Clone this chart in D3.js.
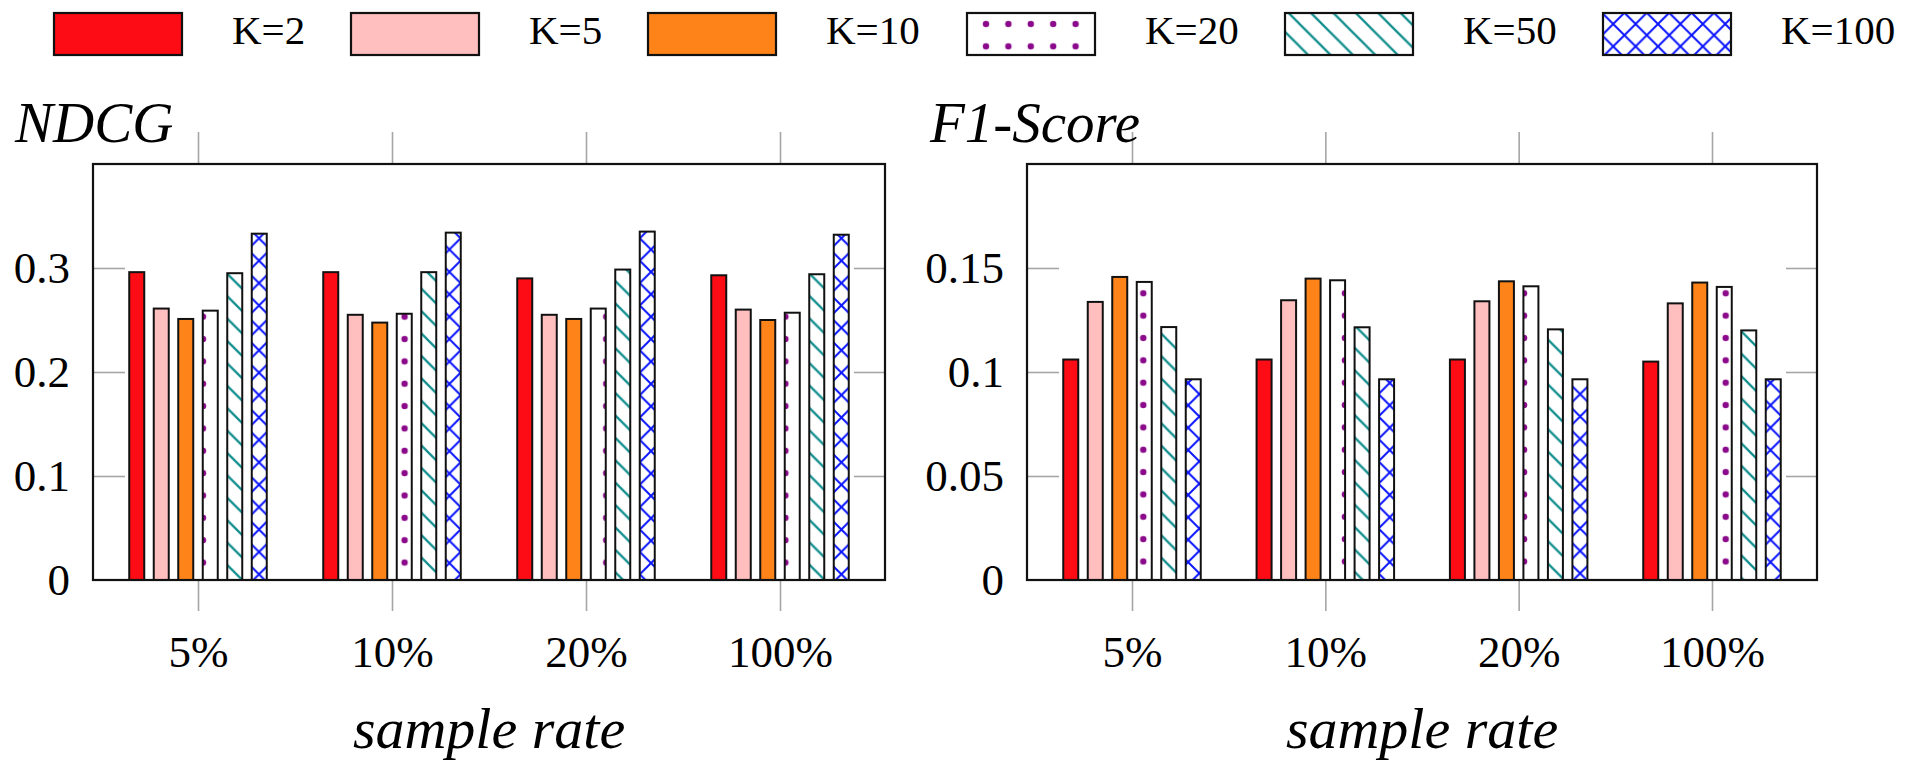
<!DOCTYPE html>
<html>
<head>
<meta charset="utf-8">
<script src="https://cdn.jsdelivr.net/npm/d3@7"></script>
<style>
  body { margin: 0; background: #fff; }
  text { font-family: "Liberation Serif", "Times New Roman", serif; fill: #000; }
</style>
</head>
<body>
<svg id="chart" width="1908" height="760"></svg>
<script>
// categories on the x axis
var rates = ["5%", "10%", "20%", "100%"];
// one series per K
var kLabels = ["K=2", "K=5", "K=10", "K=20", "K=50", "K=100"];

// NDCG values, one row per K, one column per sample rate
var ndcgK2   = [0.296, 0.296, 0.290, 0.293];
var ndcgK5   = [0.261, 0.255, 0.255, 0.260];
var ndcgK10  = [0.251, 0.2475, 0.251, 0.250];
var ndcgK20  = [0.259, 0.256, 0.261, 0.257];
var ndcgK50  = [0.295, 0.296, 0.2985, 0.294];
var ndcgK100 = [0.333, 0.334, 0.335, 0.332];

// F1-Score values
var f1K2   = [0.106, 0.106, 0.106, 0.105];
var f1K5   = [0.1337, 0.1345, 0.134, 0.133];
var f1K10  = [0.1457, 0.1449, 0.1436, 0.1430];
var f1K20  = [0.1433, 0.1441, 0.1412, 0.1409];
var f1K50  = [0.1216, 0.1215, 0.1205, 0.120];
var f1K100 = [0.0965, 0.0965, 0.0965, 0.0965];

// y ticks
var ndcgTicks = [0, 0.1, 0.2, 0.3];
var ndcgTickLabels = ["0", "0.1", "0.2", "0.3"];
var f1Ticks = [0, 0.05, 0.1, 0.15];
var f1TickLabels = ["0", "0.05", "0.1", "0.15"];

var svg = d3.select("#chart");
var defs = svg.append("defs");

// fill style for each K: plain colour or a pattern name
var styles = [
  { fill: "#fe0c15" },
  { fill: "#ffbfbf" },
  { fill: "#fe841a" },
  { pattern: "dots" },
  { pattern: "hatch" },
  { pattern: "cross" }
];

var P = 22.4; // pattern period

// patterns are anchored in page space, so each chart gets its own offset
function makePatterns(suffix, ox, oy) {
  var d = defs.append("pattern").attr("id", "dots" + suffix)
    .attr("patternUnits", "userSpaceOnUse")
    .attr("x", ox).attr("y", oy).attr("width", P).attr("height", 22.35);
  d.append("rect").attr("width", P).attr("height", 22.35).attr("fill", "#fff");
  [[0, 0], [P, 0], [0, 22.35], [P, 22.35]].forEach(function(c) {
    d.append("circle").attr("cx", c[0]).attr("cy", c[1]).attr("r", 3.2).attr("fill", "#8b0a8b");
  });

  var h = defs.append("pattern").attr("id", "hatch" + suffix)
    .attr("patternUnits", "userSpaceOnUse")
    .attr("x", ox).attr("y", oy).attr("width", P).attr("height", P);
  h.append("rect").attr("width", P).attr("height", P).attr("fill", "#fff");
  h.append("path")
    .attr("d", "M-1,-1L" + (P + 1) + "," + (P + 1) +
      "M-1," + (P - 1) + "L1," + (P + 1) +
      "M" + (P - 1) + ",-1L" + (P + 1) + ",1")
    .attr("stroke", "#148f8f").attr("stroke-width", 2.3);

  var c = defs.append("pattern").attr("id", "cross" + suffix)
    .attr("patternUnits", "userSpaceOnUse")
    .attr("x", ox).attr("y", oy).attr("width", P).attr("height", P);
  c.append("rect").attr("width", P).attr("height", P).attr("fill", "#fff");
  c.append("path")
    .attr("d", "M-1,-1L" + (P + 1) + "," + (P + 1) +
      "M-1," + (P - 1) + "L1," + (P + 1) +
      "M" + (P - 1) + ",-1L" + (P + 1) + ",1" +
      "M-1," + (P + 1) + "L" + (P + 1) + ",-1" +
      "M-1,1L1,-1" +
      "M" + (P - 1) + "," + (P + 1) + "L" + (P + 1) + "," + (P - 1))
    .attr("stroke", "#0a14ff").attr("stroke-width", 2);
}
makePatterns("L", 203, 316.7);
makePatterns("R", 1143.3, 293.3);
makePatterns("G", 986, 24);

function fillFor(i, suffix) {
  var s = styles[i];
  return s.fill ? s.fill : "url(#" + s.pattern + suffix + ")";
}

// one panel of the figure
function drawPanel(opts) {
  var left = opts.left, right = opts.right, top = 164, bottom = 580;
  var g = svg.append("g");

  var x = d3.scalePoint().domain(rates).range([left + 105, right - 105]);
  var xs = d3.scalePoint().domain(kLabels).range([-61.25, 61.25]);
  var y = d3.scaleLinear().domain([0, opts.ymax]).range([bottom, top]);

  // bars
  opts.series.forEach(function(vals, i) {
    g.selectAll(null)
      .data(vals)
      .enter()
      .append("rect")
      .attr("x", function(d, j) { return x(rates[j]) + xs(kLabels[i]) - 7.5; })
      .attr("y", function(d) { return y(d); })
      .attr("width", 15)
      .attr("height", function(d) { return bottom - y(d); })
      .attr("fill", fillFor(i, opts.suffix))
      .attr("stroke", "#111")
      .attr("stroke-width", 2);
  });

  // y axis on the left: inside ticks, labels outside
  var yAxis = g.append("g").attr("transform", "translate(" + left + ",0)")
    .call(d3.axisLeft(y).tickValues(opts.ticks)
      .tickFormat(function(d, i) { return opts.tickLabels[i]; })
      .tickSizeInner(-32).tickSizeOuter(0).tickPadding(23));
  // right side ticks
  var yAxisR = g.append("g").attr("transform", "translate(" + right + ",0)")
    .call(d3.axisRight(y).tickValues(opts.ticks).tickFormat("")
      .tickSizeInner(-31).tickSizeOuter(0));
  // x ticks point outwards, top and bottom
  var xAxis = g.append("g").attr("transform", "translate(0," + bottom + ")")
    .call(d3.axisBottom(x).tickSizeInner(31).tickSizeOuter(0).tickPadding(24));
  var xAxisT = g.append("g").attr("transform", "translate(0," + top + ")")
    .call(d3.axisTop(x).tickFormat("").tickSizeInner(32).tickSizeOuter(0));

  [yAxis, yAxisR, xAxis, xAxisT].forEach(function(a) {
    a.select(".domain").remove();
    a.selectAll(".tick line").attr("stroke", "#a6a6a6").attr("stroke-width", 1.6);
    a.selectAll("text").attr("font-size", 45).attr("font-family", "Liberation Serif");
  });
  // zero ticks sit on the frame
  [yAxis, yAxisR].forEach(function(a) {
    a.selectAll(".tick").filter(function(d) { return d === 0; })
      .select("line").attr("stroke", "none");
  });

  // frame
  g.append("rect")
    .attr("x", left).attr("y", top)
    .attr("width", right - left).attr("height", bottom - top)
    .attr("fill", "none").attr("stroke", "#111").attr("stroke-width", 2.2);

  // title on top left
  g.append("text")
    .attr("x", opts.titleX).attr("y", 142)
    .attr("font-size", 57).attr("font-style", "italic")
    .text(opts.title);

  // x axis name
  g.append("text")
    .attr("x", (left + right) / 2).attr("y", 748)
    .attr("text-anchor", "middle")
    .attr("font-size", 58).attr("font-style", "italic")
    .text("sample rate");
}

drawPanel({
  left: 93, right: 885, ymax: 0.4, suffix: "L",
  series: [ndcgK2, ndcgK5, ndcgK10, ndcgK20, ndcgK50, ndcgK100],
  ticks: ndcgTicks, tickLabels: ndcgTickLabels,
  title: "NDCG", titleX: 15
});

drawPanel({
  left: 1027, right: 1817, ymax: 0.2, suffix: "R",
  series: [f1K2, f1K5, f1K10, f1K20, f1K50, f1K100],
  ticks: f1Ticks, tickLabels: f1TickLabels,
  title: "F1-Score", titleX: 930
});

// legend across the top
var legendX = d3.scaleOrdinal().domain(kLabels).range([54, 351, 648, 967, 1285, 1603]);
var legend = svg.append("g");
kLabels.forEach(function(k, i) {
  legend.append("rect")
    .attr("x", legendX(k)).attr("y", 13)
    .attr("width", 128).attr("height", 42)
    .attr("fill", fillFor(i, "G"))
    .attr("stroke", "#111").attr("stroke-width", 2.2);
  legend.append("text")
    .attr("x", legendX(k) + 178).attr("y", 44)
    .attr("font-size", 41)
    .text(k);
});
</script>
</body>
</html>
